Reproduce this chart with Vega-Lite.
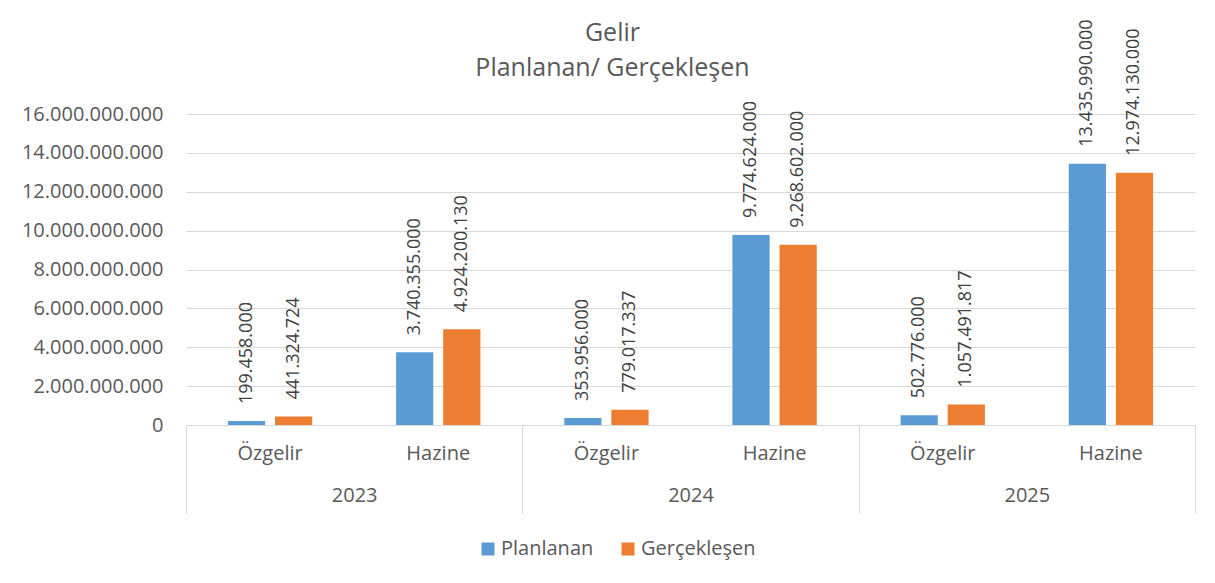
{
  "$schema": "https://vega.github.io/schema/vega-lite/v6.json",
  "width": 1009,
  "height": 311,
  "autosize": {"type": "none"},
  "padding": {"left": 186, "top": 114, "right": 20, "bottom": 158},
  "background": "white",
  "config": {
    "locale": {"number": {"decimal": ",", "thousands": ".", "grouping": [3], "currency": ["", ""]}},
    "view": {"stroke": null},
    "font": "Open Sans"
  },
  "title": {
    "text": ["Gelir", "Planlanan/ Gerçekleşen"],
    "fontSize": 25,
    "fontWeight": "normal",
    "color": "#595959",
    "font": "Open Sans",
    "lineHeight": 35,
    "anchor": "middle",
    "frame": "bounds",
    "dx": 4,
    "offset": -62
  },
  "data": {
    "values": [
      {"year": "2023", "type": "Özgelir", "cat": "2023|Özgelir", "series": "Planlanan", "value": 199458000},
      {"year": "2023", "type": "Özgelir", "cat": "2023|Özgelir", "series": "Gerçekleşen", "value": 441324724},
      {"year": "2023", "type": "Hazine", "cat": "2023|Hazine", "series": "Planlanan", "value": 3740355000},
      {"year": "2023", "type": "Hazine", "cat": "2023|Hazine", "series": "Gerçekleşen", "value": 4924200130},
      {"year": "2024", "type": "Özgelir", "cat": "2024|Özgelir", "series": "Planlanan", "value": 353956000},
      {"year": "2024", "type": "Özgelir", "cat": "2024|Özgelir", "series": "Gerçekleşen", "value": 779017337},
      {"year": "2024", "type": "Hazine", "cat": "2024|Hazine", "series": "Planlanan", "value": 9774624000},
      {"year": "2024", "type": "Hazine", "cat": "2024|Hazine", "series": "Gerçekleşen", "value": 9268602000},
      {"year": "2025", "type": "Özgelir", "cat": "2025|Özgelir", "series": "Planlanan", "value": 502776000},
      {"year": "2025", "type": "Özgelir", "cat": "2025|Özgelir", "series": "Gerçekleşen", "value": 1057491817},
      {"year": "2025", "type": "Hazine", "cat": "2025|Hazine", "series": "Planlanan", "value": 13435990000},
      {"year": "2025", "type": "Hazine", "cat": "2025|Hazine", "series": "Gerçekleşen", "value": 12974130000}
    ]
  },
  "layer": [
    {
      "encoding": {
        "x": {
          "field": "cat",
          "type": "nominal",
          "sort": ["2023|Özgelir", "2023|Hazine", "2024|Özgelir", "2024|Hazine", "2025|Özgelir", "2025|Hazine"],
          "scale": {"paddingInner": 0, "paddingOuter": 0},
          "axis": {
            "title": null,
            "orient": "bottom",
            "labelExpr": "split(datum.value, '|')[1]",
            "labelAngle": 0,
            "ticks": false,
            "domain": true,
            "domainColor": "#d9d9d9",
            "domainWidth": 1,
            "labelFontSize": 20,
            "labelColor": "#595959",
            "labelFont": "Open Sans",
            "labelPadding": 18,
            "grid": false
          }
        },
        "xOffset": {
          "field": "series",
          "type": "nominal",
          "sort": ["Planlanan", "Gerçekleşen"],
          "scale": {"paddingInner": 0.21, "paddingOuter": 0.89}
        },
        "y": {
          "field": "value",
          "type": "quantitative",
          "scale": {"domain": [0, 16000000000], "nice": false},
          "axis": {
            "title": null,
            "values": [0, 2000000000, 4000000000, 6000000000, 8000000000, 10000000000, 12000000000, 14000000000, 16000000000],
            "format": ",d",
            "domain": false,
            "ticks": false,
            "grid": true,
            "gridColor": "#d9d9d9",
            "gridWidth": 1,
            "labelFontSize": 20,
            "labelColor": "#595959",
            "labelFont": "Open Sans",
            "labelPadding": 23
          }
        }
      },
      "layer": [
        {
          "mark": {"type": "bar"},
          "encoding": {
            "color": {
              "field": "series",
              "type": "nominal",
              "sort": ["Planlanan", "Gerçekleşen"],
              "scale": {"domain": ["Planlanan", "Gerçekleşen"], "range": ["#5B9BD5", "#ED7D31"]},
              "legend": {
                "title": null,
                "orient": "none",
                "legendX": 292,
                "legendY": 425,
                "direction": "horizontal",
                "symbolType": "square",
                "symbolSize": 169,
                "symbolStrokeWidth": 0,
                "labelFontSize": 20,
                "labelColor": "#595959",
                "labelFont": "Open Sans",
                "labelOffset": 3,
                "columnPadding": 24
              }
            }
          }
        },
        {
          "mark": {"type": "text", "angle": 270, "align": "left", "baseline": "middle", "dx": 17, "fontSize": 18, "color": "#404040", "font": "Open Sans"},
          "encoding": {
            "text": {"field": "value", "type": "quantitative", "format": ",d"}
          }
        }
      ]
    },
    {
      "mark": {"type": "text", "opacity": 0},
      "encoding": {
        "x": {
          "field": "year",
          "type": "nominal",
          "sort": ["2023", "2024", "2025"],
          "scale": {"paddingInner": 0, "paddingOuter": 0},
          "axis": {
            "title": null,
            "orient": "bottom",
            "offset": 0,
            "labelAngle": 0,
            "domain": false,
            "ticks": true,
            "tickBand": "extent",
            "tickSize": 88,
            "tickColor": "#d9d9d9",
            "tickWidth": 1,
            "labelFontSize": 20,
            "labelColor": "#595959",
            "labelFont": "Open Sans",
            "labelPadding": -28,
            "grid": false
          }
        }
      }
    }
  ],
  "resolve": {"scale": {"x": "independent"}, "axis": {"x": "independent"}}
}
